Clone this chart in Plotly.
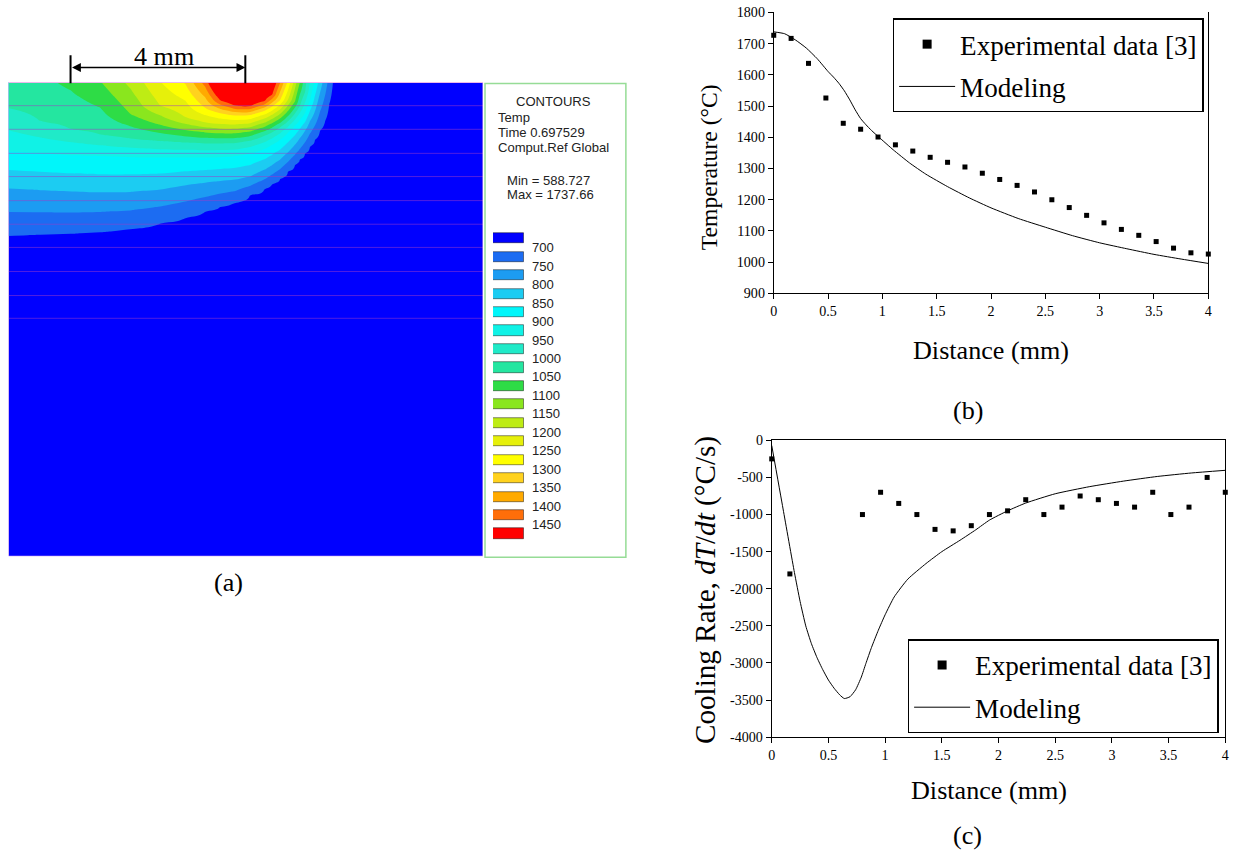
import numpy as np
import plotly.graph_objects as go

# Figure size, plus the measured mapping from figure pixels to the photographed page
# (page = A * figure + B) that the layout positions are corrected for.
FW, FH = 1233, 856
AX, BX = 0.9945, 3.5
AY, BY = 0.9817, 7.5


def px(x):
    return ((x - BX) / AX) / FW


def py(y):
    return 1 - ((y - BY) / AY) / FH


def fs(s):
    return s / AX


SERIF = "Liberation Serif"
SANS = "Liberation Sans"

# ---------------- Panel (a): isotherm positions ----------------
# columns across the plate (mm from the left edge); depth (mm) of each isotherm per column
col_x_mm = [0, 0.73, 1.42, 2.10, 2.79, 3.47, 4.05, 4.50, 4.85, 5.19, 5.53, 5.87, 6.03,
            6.22, 6.40, 6.56, 6.67, 6.79, 6.90, 7.02, 7.13, 7.25, 7.34, 7.43, 7.70, 10.86]
surface_temp = [1020, 1038, 1060, 1097, 1162, 1247, 1305, 1420, 1580, 1700, 1710, 1570, 1510,
                1400, 1285, 1170, 1100, 1015, 950, 888, 825, 773, 733, 698, 640, 600]
N = None
depth_1450 = [N, N, N, N, N, N, N, N, 0.41, 0.53, 0.54, 0.42, 0.29,
              N, N, N, N, N, N, N, N, N, N, N, N, N]
depth_1300 = [N, N, N, N, N, N, N, 0.58, 0.70, 0.75, 0.74, 0.64, 0.55,
              0.40, N, N, N, N, N, N, N, N, N, N, N, N]
depth_1200 = [N, N, N, N, N, 0.53, 0.80, 0.91, 0.95, 0.96, 0.93, 0.82, 0.74,
              0.61, 0.39, N, N, N, N, N, N, N, N, N, N, N]
depth_1100 = [N, N, N, N, 0.72, 0.97, 1.09, 1.14, 1.16, 1.16, 1.12, 1.01, 0.93,
              0.82, 0.65, 0.43, N, N, N, N, N, N, N, N, N, N]
depth_1000 = [0.59, 0.89, 1.07, 1.19, 1.28, 1.34, 1.37, 1.39, 1.39, 1.38, 1.33, 1.21, 1.14,
              1.02, 0.88, 0.70, 0.53, 0.21, N, N, N, N, N, N, N, N]
depth_900 = [1.58, 1.62, 1.66, 1.68, 1.70, 1.71, 1.71, 1.71, 1.70, 1.68, 1.62, 1.51, 1.42,
             1.30, 1.14, 0.98, 0.85, 0.69, 0.41, N, N, N, N, N, N, N]
depth_800 = [2.42, 2.46, 2.49, 2.51, 2.50, 2.45, 2.35, 2.29, 2.25, 2.22, 2.15, 1.99, 1.89,
             1.76, 1.59, 1.42, 1.27, 1.10, 0.88, 0.64, 0.23, N, N, N, N, N]
depth_700 = [3.50, 3.47, 3.45, 3.41, 3.35, 3.22, 3.09, 2.95, 2.83, 2.74, 2.58, 2.42, 2.32,
             2.19, 2.03, 1.87, 1.76, 1.62, 1.46, 1.30, 1.10, 0.87, 0.50, N, N, N]
depth_650 = [4.90, 4.90, 4.85, 4.80, 4.70, 4.55, 4.40, 4.25, 4.15, 4.05, 3.90, 3.70, 3.59,
             3.45, 3.27, 3.10, 2.95, 2.80, 2.63, 2.45, 2.22, 2.00, 1.76, 1.50, N, N]
bottom_temp = [608, 608, 607, 606, 605, 604, 603, 602, 601, 600, 600, 599, 599,
               598, 598, 597, 597, 596, 596, 595, 595, 594, 594, 593, 592, 589]
iso_levels = [1450, 1300, 1200, 1100, 1000, 900, 800, 700, 650]
iso_depths = [depth_1450, depth_1300, depth_1200, depth_1100, depth_1000, depth_900,
              depth_800, depth_700, depth_650]

contour_levels = [700, 750, 800, 850, 900, 950, 1000, 1050, 1100, 1150,
                  1200, 1250, 1300, 1350, 1400, 1450]
band_colors = ["#0000FF", "#1C6CF2", "#1C9CF2", "#1CCCF2", "#00F6FA", "#10F2E6",
               "#20EAC8", "#24E6A0", "#2EDC46", "#8AE61E", "#BEEC14", "#E6F00A",
               "#FFFF00", "#FFD21E", "#FFAA00", "#FF6E0A", "#FF0000"]
mesh_layer_depth_mm = [0.53, 1.07, 1.62, 2.15, 2.70, 3.24, 3.77, 4.32, 4.87, 5.39]
plate_width_mm = 10.86
plate_depth_mm = 10.83
scale_bar_start_mm = 1.42
scale_bar_len_mm = 4
legend_info = ["Temp", "Time 0.697529", "Comput.Ref Global"]
field_min, field_max = "588.727", "1737.66"

# ---------------- Panel (b): temperature ----------------
exp_b_dist = [0, 0.16, 0.32, 0.48, 0.64, 0.8, 0.96, 1.12, 1.28, 1.44, 1.6, 1.76, 1.92,
              2.08, 2.24, 2.4, 2.56, 2.72, 2.88, 3.04, 3.2, 3.36, 3.52, 3.68, 3.84, 4.0]
exp_b_temp = [1727, 1717, 1637, 1526, 1445, 1426, 1401, 1376, 1356, 1336, 1320, 1305, 1285,
              1265, 1246, 1225, 1200, 1175, 1150, 1126, 1105, 1086, 1066, 1045, 1030, 1026]
mod_b_dist = [0, 0.1, 0.2, 0.3, 0.4, 0.5, 0.55, 0.6, 0.65, 0.7, 0.75, 0.8, 0.85, 0.9, 0.97,
              1.1, 1.25, 1.4, 1.6, 1.8, 2.0, 2.25, 2.5, 2.75, 3.0, 3.25, 3.5, 3.75, 4.0]
mod_b_temp = [1738, 1732, 1712, 1686, 1652, 1611, 1593, 1573, 1549, 1520, 1488, 1460, 1440,
              1422, 1400, 1360, 1318, 1282, 1242, 1206, 1174, 1140, 1112, 1085, 1062, 1043,
              1025, 1010, 996]

# ---------------- Panel (c): cooling rate ----------------
exp_c_dist = [0, 0.16, 0.8, 0.96, 1.12, 1.28, 1.44, 1.6, 1.76, 1.92, 2.08, 2.24, 2.4,
              2.56, 2.72, 2.88, 3.04, 3.2, 3.36, 3.52, 3.68, 3.84, 4.0]
exp_c_rate = [-250, -1800, -1000, -700, -850, -1000, -1200, -1220, -1150, -1000, -950, -800,
              -1000, -900, -750, -800, -850, -900, -700, -1000, -900, -500, -700]
mod_c_dist = [0, 0.1, 0.2, 0.25, 0.3, 0.35, 0.4, 0.45, 0.5, 0.55, 0.6, 0.64, 0.69, 0.74,
              0.79, 0.83, 0.88, 0.94, 1.0, 1.08, 1.2, 1.36, 1.5, 1.66, 1.8, 1.92, 2.08,
              2.24, 2.5, 2.8, 3.1, 3.4, 3.7, 4.0]
mod_c_rate = [-70, -925, -1780, -2170, -2500, -2740, -2930, -3090, -3230, -3340, -3430,
              -3479, -3455, -3360, -3190, -3008, -2790, -2559, -2350, -2110, -1870, -1661,
              -1500, -1347, -1205, -1075, -950, -845, -720, -625, -550, -487, -440, -404]
rate_ticks = [0, -500, -1000, -1500, -2000, -2500, -3000, -3500, -4000]

EXP_NAME = "Experimental data [3]"
MOD_NAME = "Modeling"

# ---- temperature table for the contour trace, built from the isotherm columns ----
row_depth = np.linspace(0, plate_depth_mm, 240)
temp_grid = np.zeros((len(row_depth), len(col_x_mm)))
for j in range(len(col_x_mm)):
    knots_d = [0.0]
    knots_t = [surface_temp[j]]
    for lev, dep in zip(iso_levels, iso_depths):
        if dep[j] is not None:
            knots_d.append(dep[j])
            knots_t.append(lev)
    knots_d.append(plate_depth_mm)
    knots_t.append(bottom_temp[j])
    temp_grid[:, j] = np.interp(row_depth, knots_d, knots_t)

fig = go.Figure()

nb = len(band_colors) - 1
colorscale = [[i / nb, c] for i, c in enumerate(band_colors)]
fig.add_trace(go.Contour(
    x=col_x_mm, y=row_depth, z=temp_grid,
    contours=dict(start=contour_levels[0], end=contour_levels[-1],
                  size=contour_levels[1] - contour_levels[0],
                  coloring="fill", showlines=False),
    colorscale=colorscale, showscale=False,
    line=dict(width=0, smoothing=1.3),
    xaxis="x3", yaxis="y3", hoverinfo="skip", showlegend=False))

# contour legend swatches
fig.add_trace(go.Bar(
    x=[1] * len(band_colors), y=list(range(len(band_colors))), orientation="h",
    width=0.55, marker=dict(color=band_colors, line=dict(color="rgba(0,0,0,0.45)", width=1)),
    xaxis="x4", yaxis="y4", showlegend=False, hoverinfo="skip"))

# panel (b)
fig.add_trace(go.Scatter(x=exp_b_dist, y=exp_b_temp, mode="markers",
                         marker=dict(symbol="square", size=5, color="black"),
                         cliponaxis=False, showlegend=False, xaxis="x", yaxis="y"))
fig.add_trace(go.Scatter(x=[None], y=[None], mode="markers", name=EXP_NAME,
                         marker=dict(symbol="square", size=9, color="black"),
                         legend="legend", legendgroup="e", xaxis="x", yaxis="y"))
fig.add_trace(go.Scatter(x=mod_b_dist, y=mod_b_temp, mode="lines", name=MOD_NAME,
                         line=dict(color="black", width=1, shape="spline", smoothing=0.5),
                         legend="legend", legendgroup="m", xaxis="x", yaxis="y"))

# panel (c)
fig.add_trace(go.Scatter(x=exp_c_dist, y=exp_c_rate, mode="markers",
                         marker=dict(symbol="square", size=5, color="black"),
                         cliponaxis=False, showlegend=False, xaxis="x2", yaxis="y2"))
fig.add_trace(go.Scatter(x=[None], y=[None], mode="markers", name=EXP_NAME,
                         marker=dict(symbol="square", size=9, color="black"),
                         legend="legend2", legendgroup="e2", xaxis="x2", yaxis="y2"))
fig.add_trace(go.Scatter(x=mod_c_dist, y=mod_c_rate, mode="lines", name=MOD_NAME,
                         line=dict(color="black", width=1, shape="spline", smoothing=0.5),
                         legend="legend2", legendgroup="m2", xaxis="x2", yaxis="y2"))

axis_common = dict(showgrid=False, zeroline=False, showline=True, linecolor="black",
                   linewidth=1, ticks="outside", ticklen=5, tickwidth=1, tickcolor="black",
                   tickfont=dict(family=SERIF, size=fs(14), color="black"))

legend_common = dict(xanchor="left", yanchor="top", bgcolor="white", bordercolor="black",
                     borderwidth=1.5, font=dict(family=SERIF, size=fs(27), color="black"),
                     tracegroupgap=4, itemwidth=56, traceorder="grouped")

shapes = []
for d in mesh_layer_depth_mm:
    shapes.append(dict(type="line", xref="x3", yref="y3", x0=0, x1=plate_width_mm, y0=d, y1=d,
                       line=dict(color="rgba(160,60,200,0.5)", width=1)))
shapes.append(dict(type="rect", xref="x3", yref="y3", x0=0, x1=plate_width_mm, y0=0,
                   y1=plate_depth_mm, line=dict(color="rgb(236,184,236)", width=1)))
for xb in (scale_bar_start_mm, scale_bar_start_mm + scale_bar_len_mm):
    shapes.append(dict(type="line", xref="x3", yref="y3", x0=xb, x1=xb, y0=-0.62, y1=0.02,
                       line=dict(color="black", width=2)))
shapes.append(dict(type="rect", xref="paper", yref="paper", x0=px(485), x1=px(626),
                   y0=py(557), y1=py(83), line=dict(color="#96DC96", width=1.5)))


def label(x, y, text, size, family=SERIF, xanchor="center", color="black", angle=0):
    return dict(x=px(x), y=py(y), xref="paper", yref="paper", text=text, showarrow=False,
                xanchor=xanchor, yanchor="middle", textangle=angle,
                font=dict(family=family, size=fs(size), color=color))


annotations = [
    dict(x=scale_bar_start_mm + scale_bar_len_mm, y=-0.343, xref="x3", yref="y3",
         ax=scale_bar_start_mm, ay=-0.343, axref="x3", ayref="y3", text="",
         showarrow=True, arrowhead=2, startarrowhead=2, arrowside="end+start",
         arrowsize=1.1, arrowwidth=1.6, arrowcolor="black"),
    label(164, 56, f"{scale_bar_len_mm} mm", 26),
    label(554, 101, "CONTOURS", 13, SANS, color="#222"),
    label(228, 582, "(a)", 26),
    label(968, 410, "(b)", 26),
    label(968, 835, "(c)", 26),
    label(710, 167, "Temperature (°C)", 23.5, angle=-90),
    label(991, 350, "Distance (mm)", 26),
    label(989, 790, "Distance (mm)", 26),
    label(705, 590, "Cooling Rate, <i>dT</i>/<i>dt</i> (°C/s)", 29, angle=-90),
]
for txt, yy in zip(legend_info, [117, 132, 147]):
    annotations.append(label(496, yy, txt, 13, SANS, xanchor="left", color="#222"))
for txt, yy in [(f"Min = {field_min}", 180), (f"Max = {field_max}", 194)]:
    annotations.append(label(505, yy, txt, 13, SANS, xanchor="left", color="#222"))

fig.update_layout(
    width=FW, height=FH, margin=dict(l=0, r=0, t=0, b=0),
    paper_bgcolor="white", plot_bgcolor="white", bargap=0,
    xaxis=dict(domain=[px(774), px(1209)], anchor="y", range=[0, 4], dtick=0.5, tick0=0,
               **axis_common),
    yaxis=dict(domain=[py(293), py(12)], anchor="x", range=[900, 1800], dtick=100, mirror=True,
               **axis_common),
    xaxis2=dict(domain=[px(772), px(1226)], anchor="y2", range=[0, 4], dtick=0.5, tick0=0,
                mirror=True, **axis_common),
    yaxis2=dict(domain=[py(737), py(440)], anchor="x2", range=[-4000, 0], mirror=True,
                tickvals=rate_ticks, ticktext=[str(v) for v in rate_ticks],
                **axis_common),
    xaxis3=dict(domain=[px(8), px(483)], anchor="y3", range=[0, plate_width_mm], visible=False),
    yaxis3=dict(domain=[py(556), py(40)], anchor="x3", range=[plate_depth_mm, -0.96],
                visible=False),
    xaxis4=dict(domain=[px(493), px(524)], anchor="y4", range=[0, 1], visible=False),
    yaxis4=dict(domain=[py(542.7), py(228.8)], anchor="x4", range=[len(band_colors) - 0.5, -0.5],
                side="right", showline=False, showgrid=False, zeroline=False, ticks="",
                tickvals=[i + 0.5 for i in range(len(contour_levels))],
                ticktext=[str(v) for v in contour_levels], ticklabelstandoff=7,
                tickfont=dict(family=SANS, size=fs(13), color="#222")),
    legend=dict(x=px(893), y=py(18), **legend_common),
    legend2=dict(x=px(908), y=py(639), **legend_common),
    shapes=shapes, annotations=annotations,
)

fig.write_html("out.html")
